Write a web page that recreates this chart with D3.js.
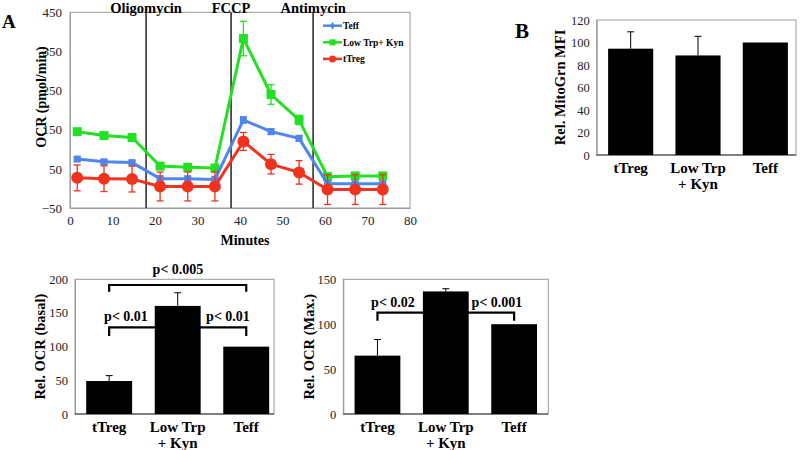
<!DOCTYPE html>
<html><head><meta charset="utf-8">
<script src="https://cdn.jsdelivr.net/npm/d3@7"></script>
<style>
body{margin:0;background:#fff;}
svg{display:block;font-family:"Liberation Serif","Times New Roman",serif;}
</style></head><body>
<svg id="c" width="800" height="450"></svg>
<script>
// ---------- Data ----------
const minutes = [1.7, 8.0, 14.6, 21.2, 27.7, 34.1, 40.8, 47.3, 53.9, 60.6, 67.1, 73.6];
const teffOCR = [75, 68, 66, 25, 25, 23, 175, 145, 128, 12, 12, 12];
const teffErr = [5, 5, 5, 4, 4, 4, 8, 7, 7, 3, 3, 3];
const lowTrpOCR = [145, 135, 130, 57, 54, 52, 383, 240, 175, 30, 32, 32];
const lowTrpErr = [4, 4, 4, 4, 4, 4, 44, 25, 12, 4, 4, 4];
const tTregOCR = [27, 25, 24, 5, 5, 5, 120, 62, 41, -3, -3, -3];
const tTregErr = [33, 33, 33, 37, 37, 37, 23, 25, 30, 38, 38, 38];
const injections = [{t:17.9,label:"Oligomycin"},{t:37.9,label:"FCCP"},{t:57.2,label:"Antimycin"}];
const xTicks = [0,10,20,30,40,50,60,70,80];
const yTicks = [-50,50,150,250,350,450];

const groups = ["tTreg","Low Trp|+ Kyn","Teff"];
const mitoVals = [94.5, 88.5, 100];
const mitoErr = [15, 17, 0];
const basalVals = [49, 160.5, 100];
const basalErr = [8, 19.5, 0];
const maxVals = [65, 136.5, 100];
const maxErr = [18, 3, 0];

const svg = d3.select("#c");
const FONT = "Liberation Serif, Times New Roman, serif";

// ---------- Panel A line chart ----------
const x = d3.scaleLinear().domain([0,80]).range([70,410]);
const y = d3.scaleLinear().domain([-50,450]).range([208,12.3]);

svg.append("rect").attr("x",70).attr("y",12.3).attr("width",340).attr("height",195.7)
  .attr("fill","none").attr("stroke","#999").attr("stroke-width",1);

const gx = svg.append("g").attr("transform","translate(0,208)")
  .call(d3.axisBottom(x).tickValues(xTicks).tickSize(0).tickPadding(8));
gx.select(".domain").attr("stroke","#999");
gx.selectAll("text").attr("font-size",13).attr("fill","#222").attr("font-family",FONT);

const gy = svg.append("g").attr("transform","translate(70,0)")
  .call(d3.axisLeft(y).tickValues(yTicks).tickSize(0).tickPadding(8));
gy.select(".domain").attr("stroke","#999");
gy.selectAll("text").attr("font-size",13).attr("fill","#222").attr("font-family",FONT);

// injection lines
injections.forEach(d=>{
  svg.append("line").attr("x1",x(d.t)).attr("x2",x(d.t)).attr("y1",12.3).attr("y2",208)
    .attr("stroke","#222").attr("stroke-width",1.5);
  svg.append("text").attr("x",x(d.t)).attr("y",12.5).attr("text-anchor","middle")
    .attr("font-weight","bold").attr("font-size",14.5).attr("font-family",FONT).text(d.label);
});

const series = [
  {name:"Teff", vals:teffOCR, err:teffErr, color:"#4f86ec", shape:"square", size:7},
  {name:"Low Trp+ Kyn", vals:lowTrpOCR, err:lowTrpErr, color:"#22e022", shape:"square", size:9},
  {name:"tTreg", vals:tTregOCR, err:tTregErr, color:"#f0331f", shape:"circle", size:6}
];
[series[1], series[0], series[2]].forEach(s=>{
  const g = svg.append("g");
  s.vals.forEach((v,i)=>{
    const cx = x(minutes[i]);
    g.append("line").attr("x1",cx).attr("x2",cx).attr("y1",y(v+s.err[i])).attr("y2",y(v-s.err[i]))
      .attr("stroke",s.color).attr("stroke-width",1.3);
    [v+s.err[i], v-s.err[i]].forEach(e=>{
      g.append("line").attr("x1",cx-3.5).attr("x2",cx+3.5).attr("y1",y(e)).attr("y2",y(e))
        .attr("stroke",s.color).attr("stroke-width",1.3);
    });
  });
  const line = d3.line().x((d,i)=>x(minutes[i])).y(d=>y(d));
  g.append("path").datum(s.vals).attr("d",line).attr("fill","none")
    .attr("stroke",s.color).attr("stroke-width",3);
  s.vals.forEach((v,i)=>{
    if(s.shape==="circle"){
      g.append("circle").attr("cx",x(minutes[i])).attr("cy",y(v)).attr("r",s.size).attr("fill",s.color);
    } else {
      g.append("rect").attr("x",x(minutes[i])-s.size/2).attr("y",y(v)-s.size/2)
        .attr("width",s.size).attr("height",s.size).attr("fill",s.color);
    }
  });
});

// legend
series.forEach((s,i)=>{
  const ly = 25.7 + i*16.6;
  svg.append("line").attr("x1",323).attr("x2",342).attr("y1",ly).attr("y2",ly)
    .attr("stroke",s.color).attr("stroke-width",2.5);
  if(s.shape==="circle") svg.append("circle").attr("cx",332.5).attr("cy",ly).attr("r",3.5).attr("fill",s.color);
  else if(i===0) svg.append("path").attr("d",d3.symbol(d3.symbolDiamond,18)()).attr("transform",`translate(332.5,${ly})`).attr("fill",s.color);
  else svg.append("rect").attr("x",329.5).attr("y",ly-3).attr("width",6).attr("height",6).attr("fill",s.color);
  svg.append("text").attr("x",343).attr("y",ly+3.5).attr("font-size",9.5).attr("font-weight","bold")
    .attr("font-family",FONT).text(s.name);
});

svg.append("text").attr("x",245).attr("y",245).attr("text-anchor","middle").attr("font-weight","bold")
  .attr("font-size",14).attr("font-family",FONT).text("Minutes");
svg.append("text").attr("transform","translate(46,97) rotate(-90)").attr("text-anchor","middle")
  .attr("font-weight","bold").attr("font-size",14).attr("font-family",FONT).text("OCR (pmol/min)");
svg.append("text").attr("x",2).attr("y",28).attr("font-weight","bold").attr("font-size",19)
  .attr("font-family",FONT).text("A");
svg.append("text").attr("x",515).attr("y",38).attr("font-weight","bold").attr("font-size",21)
  .attr("font-family",FONT).text("B");

// ---------- Bar chart helper ----------
function barChart(opt){
  const xb = d3.scaleBand().domain(groups).range(opt.bandRange).paddingInner(0.33).paddingOuter(0.165);
  const yb = d3.scaleLinear().domain([0,opt.max]).range([opt.bottom,opt.top]);
  const g = svg.append("g");
  g.append("rect").attr("x",opt.left).attr("y",opt.top).attr("width",opt.right-opt.left)
    .attr("height",opt.bottom-opt.top).attr("fill","none").attr("stroke","#999");
  const ay = g.append("g").attr("transform",`translate(${opt.left},0)`)
    .call(d3.axisLeft(yb).tickValues(opt.ticks).tickSize(0).tickPadding(7));
  ay.select(".domain").attr("stroke","#999");
  ay.selectAll("text").attr("font-size",12.5).attr("fill","#222").attr("font-family",FONT);
  g.append("line").attr("x1",opt.left).attr("x2",opt.right).attr("y1",opt.bottom).attr("y2",opt.bottom)
    .attr("stroke","#333").attr("stroke-width",1.2);
  opt.vals.forEach((v,i)=>{
    const bx = xb(groups[i]), bw = xb.bandwidth(), cx = bx+bw/2;
    if(opt.err[i]>0){
      g.append("line").attr("x1",cx).attr("x2",cx).attr("y1",yb(v)).attr("y2",yb(v+opt.err[i])).attr("stroke","#000").attr("stroke-width",1);
      g.append("line").attr("x1",cx-3.5).attr("x2",cx+3.5).attr("y1",yb(v+opt.err[i])).attr("y2",yb(v+opt.err[i])).attr("stroke","#000").attr("stroke-width",1);
    }
    g.append("rect").attr("x",bx).attr("y",yb(v)).attr("width",bw).attr("height",opt.bottom-yb(v)).attr("fill","#000");
    const lines = groups[i].split("|");
    lines.forEach((t,k)=>{
      g.append("text").attr("x",cx).attr("y",opt.bottom+18+k*15.5).attr("text-anchor","middle")
        .attr("font-weight","bold").attr("font-size",15).attr("font-family",FONT).text(t);
    });
  });
  g.append("text").attr("transform",`translate(${opt.ylabX},${(opt.top+opt.bottom)/2}) rotate(-90)`)
    .attr("text-anchor","middle").attr("font-weight","bold").attr("font-size",14.5).attr("font-family",FONT).text(opt.ylab);
  (opt.brackets||[]).forEach(b=>{
    const x1 = xb(groups[b.from])+xb.bandwidth()/2, x2 = xb(groups[b.to])+xb.bandwidth()/2;
    const yy = yb(b.y), yt = yb(b.tick);
    g.insert("path",":first-child").attr("d",`M${x1},${yt}V${yy}H${x2}V${yt}`).attr("fill","none")
      .attr("stroke","#000").attr("stroke-width",2.2);
    g.append("text").attr("x",b.tx).attr("y",yy-b.tdy).attr("text-anchor","middle")
      .attr("font-weight","bold").attr("font-size",14).attr("font-family",FONT).text(b.label);
  });
  return {xb,yb,g};
}

// Panel B
barChart({left:596.7,right:796,top:20,bottom:155,bandRange:[597,799],max:120,ticks:[0,20,40,60,80,100,120],
  vals:mitoVals,err:mitoErr,ylab:"Rel. MitoGrn MFI",ylabX:565});

// Basal
const basal = barChart({left:75,right:274,top:279.3,bottom:414,bandRange:[74.9,280.5],max:200,ticks:[0,50,100,150,200],
  vals:basalVals,err:basalErr,ylab:"Rel. OCR (basal)",ylabX:45,
  brackets:[{from:0,to:2,y:191.5,tick:181.5,label:"p< 0.005",tx:178,tdy:11},
            {from:0,to:2,y:128.7,tick:115.8,label:"p< 0.01",tx:126,tdy:6}]});
basal.g.append("text").attr("x",228).attr("y",basal.yb(128.7)-6).attr("text-anchor","middle")
  .attr("font-weight","bold").attr("font-size",14).attr("font-family",FONT).text("p< 0.01");

// Max
const mx = barChart({left:343.3,right:548.3,top:279.3,bottom:414,bandRange:[343.3,548.3],max:150,ticks:[0,50,100,150],
  vals:maxVals,err:maxErr,ylab:"Rel. OCR (Max.)",ylabX:314,
  brackets:[{from:0,to:2,y:112.8,tick:103.9,label:"p< 0.02",tx:393,tdy:6}]});
mx.g.append("text").attr("x",497).attr("y",mx.yb(112.8)-6).attr("text-anchor","middle")
  .attr("font-weight","bold").attr("font-size",14).attr("font-family",FONT).text("p< 0.001");
</script></body></html>
